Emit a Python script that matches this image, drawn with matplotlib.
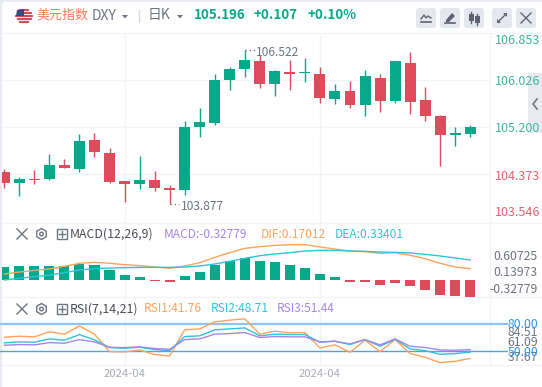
import matplotlib
matplotlib.use('Agg')
import matplotlib.pyplot as plt
from matplotlib.patches import Rectangle, FancyBboxPatch, Circle, RegularPolygon, Polygon

plt.rcParams['font.family'] = ['Noto Sans CJK SC', 'DejaVu Sans']

# Candles
opens = [104.408, 104.215, 104.285, 104.285, 104.531, 104.461, 104.971, 104.743, 104.250, 104.197, 104.267,
         104.127, 104.092, 105.200, 105.270, 106.027, 106.220, 106.361, 105.957, 106.168, 106.144, 106.133,
         105.693, 105.833, 105.587, 106.062, 105.657, 106.326, 105.675, 105.394, 105.059, 105.077]
highs = [104.461, 104.320, 104.443, 104.725, 104.637, 105.077, 105.094, 104.831, 104.250, 104.690, 104.426,
         104.180, 105.306, 105.534, 106.133, 106.256, 106.555, 106.467, 106.203, 106.379, 106.414, 106.256,
         105.957, 106.009, 106.203, 106.133, 106.361, 106.520, 105.904, 105.411, 105.200, 105.235]
lows = [104.127, 103.986, 104.197, 104.267, 104.479, 104.408, 104.672, 104.215, 103.880, 104.109, 104.074,
        103.845, 104.004, 105.024, 105.235, 105.851, 106.080, 105.886, 105.745, 105.851, 105.992, 105.622,
        105.605, 105.534, 105.394, 105.464, 105.622, 105.429, 105.306, 104.514, 104.866, 105.024]
closes = [104.215, 104.285, 104.267, 104.531, 104.479, 104.954, 104.760, 104.232, 104.197, 104.267, 104.127,
          104.092, 105.200, 105.288, 106.027, 106.220, 106.379, 105.957, 106.185, 106.133, 106.150, 105.710,
          105.833, 105.587, 106.097, 105.657, 106.361, 105.640, 105.394, 105.059, 105.094, 105.196]

# MACD
macd_hist = [.251, .270, .270, .270, .270, .309, .289, .193, .096, .058, -.019, -.039, .077, .154, .296, .367,
             .424, .367, .347, .289, .231, .116, .058, -.039, -.039, -.096, -.058, -.116, -.193, -.289, -.315, -.32779]
dif = [.116, .154, .186, .212, .264, .322, .341, .322, .296, .277, .251, .225, .270, .334, .437, .527,
       .611, .643, .669, .682, .682, .637, .598, .559, .547, .514, .527, .476, .412, .322, .251, .219]
dea = [0, .032, .064, .096, .141, .193, .219, .231, .238, .244, .244, .244, .251, .270, .309, .360,
       .418, .469, .502, .527, .559, .572, .572, .559, .553, .540, .534, .521, .495, .463, .424, .386]

# RSI
rsi1 = [65.0, 66.1, 65.4, 70.9, 68.3, 77.4, 68.3, 49.3, 48.9, 51.1, 46.0, 44.5, 73.1, 74.1, 81.8, 83.7,
        85.1, 68.3, 71.6, 69.8, 70.1, 53.3, 56.6, 48.5, 61.7, 49.3, 62.4, 47.1, 43.0, 37.2, 38.7, 41.76]
rsi2 = [58.8, 59.9, 59.5, 63.2, 61.7, 67.9, 62.1, 53.7, 52.9, 54.0, 51.5, 50.4, 65.7, 66.5, 73.1, 74.1,
        75.2, 66.5, 68.3, 67.9, 67.9, 59.5, 60.6, 57.0, 62.4, 55.1, 62.8, 52.2, 50.4, 46.3, 47.1, 48.71]
rsi3 = [56.2, 57.0, 56.6, 59.1, 58.4, 62.4, 59.9, 54.0, 53.7, 54.4, 52.6, 51.8, 62.4, 63.2, 68.3, 69.0,
        70.1, 64.6, 65.7, 65.4, 65.4, 59.9, 60.6, 57.7, 62.4, 56.6, 63.2, 55.1, 53.7, 51.1, 50.7, 51.44]

price_ticks = [106.853, 106.026, 105.200, 104.373, 103.546]
macd_labels = ['0.60725', '0.13973', '-0.32779']
rsi_labels = ['84.51', '61.09', '37.67']
date_ticks = [8, 21]
date_labels = ['2024-04', '2024-04']

GREEN = '#08a88a'
RED = '#dc4c5c'
ORANGE = '#ffa35c'
CYAN = '#2cc4dc'
PURPLE = '#a586e8'
GRID = '#f2f4f8'
GRAY = '#6f7485'
W, H = 542, 387


def px_axes(left, top, right, bottom):
    a = fig.add_axes([left / W, 1 - bottom / H, (right - left) / W, (bottom - top) / H])
    a.patch.set_alpha(0)
    for s in a.spines.values():
        s.set_visible(False)
    a.tick_params(length=0, labelbottom=False, labelleft=False)
    a.set_xlim((left - 4.3) / 15.03, (right - 4.3) / 15.03)
    a.set_xticks(date_ticks)
    a.grid(axis='x', color=GRID, lw=1)
    a.set_axisbelow(True)
    return a


fig = plt.figure(figsize=(W / 100, H / 100), dpi=100, facecolor='#e8ebf1')

# page layer in pixel coordinates
bg = fig.add_axes([0, 0, 1, 1])
bg.set_xlim(0, W)
bg.set_ylim(H, 0)
bg.axis('off')
bg.add_patch(FancyBboxPatch((2, 2), W + 20, H + 20, boxstyle='round,pad=0,rounding_size=4', fc='white', ec='none'))
bg.plot([2, W], [33, 33], color=GRID, lw=1)
bg.plot([2, W], [223, 223], color=GRID, lw=1)
bg.plot([2, W], [297, 297], color=GRID, lw=1)
bg.plot([2, W], [365, 365], color=GRID, lw=1)
bg.plot([490, 490], [33, 365], color=GRID, lw=1)
bg.add_patch(Rectangle((528, 73), 14, 60, fc='#e9eaf0', ec='none'))

# price panel
ax = px_axes(2, 33, 490, 223)
ax.set_ylim(103.51, 106.853)
ax.set_yticks(price_ticks[1:4])
ax.grid(axis='y', color=GRID, lw=1)
for i in range(len(opens)):
    c = GREEN if closes[i] >= opens[i] else RED
    ax.vlines(i, lows[i], highs[i], color=c, lw=1)
    ax.bar(i, max(abs(closes[i] - opens[i]), 0.018), bottom=min(opens[i], closes[i]), width=0.73, color=c)
ax.plot([11, 11.65], [min(lows), min(lows)], color='#777b8a', lw=1, ls=(0, (1, 2)))
ax.annotate('103.877', (11.75, min(lows)), xytext=(0, -2), textcoords='offset points', color=GRAY,
            fontsize=8.6, va='center', ha='left')
ax.plot([16, 16.65], [max(highs), max(highs)], color='#777b8a', lw=1, ls=(0, (1, 2)))
ax.annotate('106.522', (16.75, max(highs)), xytext=(0, -2), textcoords='offset points', color=GRAY,
            fontsize=8.6, va='center', ha='left')

# MACD panel
ax2 = px_axes(2, 223, 490, 297)
ax2.set_ylim(-0.328, 1.10)
ax2.set_yticks([])
ax2.bar(range(len(macd_hist)), macd_hist, width=0.67, color=[GREEN if v >= 0 else RED for v in macd_hist])
ax2.plot(dif, color=ORANGE, lw=1)
ax2.plot(dea, color=CYAN, lw=1)

# RSI panel
ax3 = px_axes(2, 297, 490, 365)
ax3.set_ylim(34.6, 109)
ax3.set_yticks([])
ax3.plot([-1, 33.45], [80, 80], color='#8cc4f5', lw=1.6, clip_on=False)
ax3.plot([-1, 33.45], [50, 50], color='#4da3e8', lw=1, clip_on=False)
ax3.plot(rsi1, color=ORANGE, lw=1)
ax3.plot(rsi2, color=CYAN, lw=1)
ax3.plot(rsi3, color=PURPLE, lw=1)

# text and icon layer above the panels
top = fig.add_axes([0, 0, 1, 1])
top.set_xlim(0, W)
top.set_ylim(H, 0)
top.axis('off')


def txt(x, y, s, color=GRAY, size=8.6, weight='normal', ha='left'):
    top.text(x, y, s, color=color, fontsize=size, fontweight=weight, ha=ha, va='center', zorder=5)


for t, lab in zip(date_ticks, date_labels):
    txt(4.3 + 15.03 * t, 373.7, lab, '#a9adb9', 8.2, ha='center')

# header
top.add_patch(Circle((24, 16.5), 8, fc='#e8e8ee', ec='none'))
for k, yy in enumerate([10, 13, 16, 19, 22]):
    half = [4, 6.5, 8, 6.5, 4][k]
    top.plot([24 - half, 24 + half], [yy, yy], color='#d33a4a', lw=1.3)
top.add_patch(Polygon([[17, 10], [24, 9], [24, 16], [16, 16]], fc='#3a4a7c', ec='none', zorder=3))
txt(36, 15, '美元指数', '#ff7a5c', 9.4)
txt(92, 16.5, 'DXY', GRAY, 10)
top.add_patch(Polygon([[122, 15], [128, 15], [125, 18.5]], fc=GRAY, ec='none'))
top.plot([138.5, 138.5], [10, 22], color='#d8dbe3', lw=1)
txt(148, 15, '日K', GRAY, 10)
top.add_patch(Polygon([[177, 15], [183, 15], [180, 18.5]], fc=GRAY, ec='none'))
txt(194, 15, '105.196', GREEN, 9.6, 'bold')
txt(254, 15, '+0.107', GREEN, 9.6, 'bold')
txt(307, 15, '+0.10%', GREEN, 9.6, 'bold')

# toolbar buttons
for bx in [416, 440, 464, 492, 516]:
    top.add_patch(FancyBboxPatch((bx, 8), 20, 20, boxstyle='round,pad=0,rounding_size=3', fc='#e6e8ef', ec='none'))
top.plot([421, 424, 426, 428, 431], [19, 15, 18, 16, 18], color='#5f6372', lw=1)
top.plot([421, 431], [22, 22], color='#5f6372', lw=1.2)
top.add_patch(Polygon([[446, 20], [452, 13], [455, 16], [449, 22], [446, 22]], fc='#5f6372', ec='none'))
top.plot([445, 455], [23, 23], color='#5f6372', lw=1.2)
for cx, y0, y1 in [(471, 14, 21), (477, 16, 23)]:
    top.add_patch(Rectangle((cx - 2.5, y0), 5, y1 - y0, fc='#5f6372', ec='none'))
    top.plot([cx, cx], [y0 - 2, y1 + 2], color='#5f6372', lw=1)
top.plot([498, 506], [22, 14], color='#5f6372', lw=1)
top.add_patch(Polygon([[503, 13], [507, 13], [507, 17]], fc='#5f6372', ec='none'))
top.add_patch(Polygon([[497, 19], [497, 23], [501, 23]], fc='#5f6372', ec='none'))
top.plot([521, 531], [13, 23], color='#5f6372', lw=1)
top.plot([531, 521], [13, 23], color='#5f6372', lw=1)
top.plot([537, 533, 537], [99, 104, 109], color=GRAY, lw=1.2)

# axis labels
price_y = [40.7, 81.5, 129, 176, 213]
for p, yy in zip(price_ticks, price_y):
    txt(495, yy, f'{p:.3f}', '#3db79f' if p > 105 else '#e8606e', 9)
for lab, yy in zip(macd_labels, [256.7, 272.7, 289.3]):
    txt(538, yy, lab, GRAY, 8.8, ha='right')
for lab, yy in zip(rsi_labels, [332, 343, 357.5]):
    txt(538, yy, lab, GRAY, 8.8, ha='right')
txt(538, 324, '80.00', '#2f95f0', 8.8, ha='right')
txt(538, 352, '50.00', '#2f95f0', 8.8, ha='right')

# indicator rows
for row_y, name in [(234, 'MACD(12,26,9)'), (309, 'RSI(7,14,21)')]:
    top.plot([17, 27], [row_y - 5, row_y + 5], color=GRAY, lw=1)
    top.plot([27, 17], [row_y - 5, row_y + 5], color=GRAY, lw=1)
    top.add_patch(RegularPolygon((41.5, row_y), 6, radius=5.5, fc='none', ec=GRAY, lw=1))
    top.add_patch(Circle((41.5, row_y), 1.8, fc='none', ec=GRAY, lw=1))
    top.add_patch(Rectangle((56.5, row_y - 5), 10, 10, fc='none', ec=GRAY, lw=1))
    top.plot([58.5, 64.5], [row_y, row_y], color=GRAY, lw=1)
    top.plot([61.5, 61.5], [row_y - 3, row_y + 3], color=GRAY, lw=1)
    txt(70, row_y, name, '#4a4e5c', 8.9)
txt(164, 234, 'MACD:-0.32779', PURPLE)
txt(261, 234, 'DIF:0.17012', ORANGE)
txt(335, 234, 'DEA:0.33401', CYAN)
txt(144, 309, 'RSI1:41.76', ORANGE)
txt(211, 309, 'RSI2:48.71', CYAN)
txt(277, 309, 'RSI3:51.44', PURPLE)

plt.savefig('out.png', dpi=100, facecolor=fig.get_facecolor())
